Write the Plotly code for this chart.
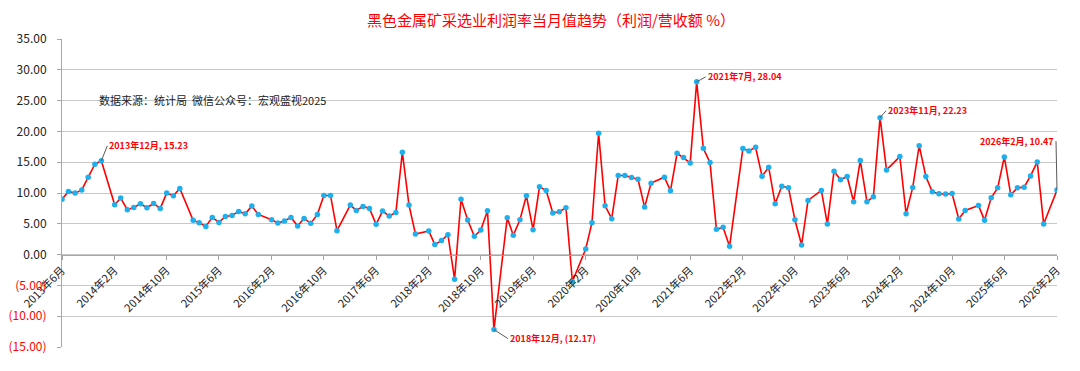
import pandas as pd
import plotly.graph_objects as go

# ---- data: monthly values, 2013-06 .. 2026-02 (January not published) ----
dates = [d.strftime("%Y-%m-%d") for d in pd.date_range("2013-06-01", "2026-02-01", freq="MS") if d.month != 1]

values_2013 = [9.0, 10.25, 9.98, 10.5, 12.57, 14.67, 15.23]
values_2014 = [8.09, 9.17, 7.28, 7.66, 8.25, 7.6, 8.3, 7.5, 9.98, 9.55, 10.73]
values_2015 = [5.56, 5.18, 4.58, 6.04, 5.23, 6.2, 6.36, 7.01, 6.63, 7.87, 6.53]
values_2016 = [5.66, 5.12, 5.45, 6.04, 4.64, 5.88, 5.07, 6.53, 9.6, 9.6, 3.88]
values_2017 = [8.04, 7.17, 7.82, 7.5, 4.91, 7.07, 6.26, 6.85, 16.61, 8.04, 3.34]
values_2018 = [3.83, 1.62, 2.27, 3.24, -3.99, 9.0, 5.61, 2.97, 3.99, 7.12, -12.17]
values_2019 = [5.99, 3.13, 5.66, 9.55, 4.05, 11.0, 10.41, 6.74, 6.96, 7.6, -4.37]
values_2020 = [0.92, 5.18, 19.69, 7.93, 5.83, 12.84, 12.84, 12.51, 12.24, 7.71, 11.6]
values_2021 = [12.57, 10.36, 16.45, 15.75, 14.89, 28.04, 17.26, 14.94, 4.1, 4.42, 1.35]
values_2022 = [17.21, 16.83, 17.42, 12.73, 14.19, 8.25, 11.11, 10.84, 5.66, 1.56, 8.79]
values_2023 = [10.41, 4.96, 13.54, 12.14, 12.68, 8.58, 15.26, 8.58, 9.39, 22.23, 13.75]
values_2024 = [15.91, 6.63, 10.9, 17.69, 12.68, 10.19, 9.87, 9.82, 9.92, 5.77, 7.17]
values_2025 = [7.98, 5.56, 9.22, 10.84, 15.86, 9.71, 10.84, 10.95, 12.78, 15.05, 4.96]
values_2026 = [10.47]

values = (values_2013 + values_2014 + values_2015 + values_2016 + values_2017 + values_2018
          + values_2019 + values_2020 + values_2021 + values_2022 + values_2023 + values_2024
          + values_2025 + values_2026)

x_tick_dates = ["2013-06-01", "2014-02-01", "2014-10-01", "2015-06-01", "2016-02-01",
                "2016-10-01", "2017-06-01", "2018-02-01", "2018-10-01", "2019-06-01",
                "2020-02-01", "2020-10-01", "2021-06-01", "2022-02-01", "2022-10-01",
                "2023-06-01", "2024-02-01", "2024-10-01", "2025-06-01", "2026-02-01"]
x_tick_labels = ["2013年6月", "2014年2月", "2014年10月", "2015年6月", "2016年2月",
                 "2016年10月", "2017年6月", "2018年2月", "2018年10月", "2019年6月",
                 "2020年2月", "2020年10月", "2021年6月", "2022年2月", "2022年10月",
                 "2023年6月", "2024年2月", "2024年10月", "2025年6月", "2026年2月"]

y_tick_vals = [35, 30, 25, 20, 15, 10, 5, 0, -5, -10, -15]
y_tick_labels = ["35.00", "30.00", "25.00", "20.00", "15.00", "10.00", "5.00", "0.00",
                 "(5.00)", "(10.00)", "(15.00)"]

label_dates = ["2013-12-01", "2018-12-01", "2021-07-01", "2023-11-01", "2026-02-01"]
label_texts = ["2013年12月, 15.23", "2018年12月, (12.17)", "2021年7月, 28.04",
               "2023年11月, 22.23", "2026年2月, 10.47"]

FONT = "Noto Sans CJK SC, sans-serif"
RED = "#FF0000"
GRID = "#C8C8C8"

# page has an 8px body margin, so the figure is drawn 8px smaller and margins shifted
OFF = 8
W, H = 1080 - OFF, 371 - OFF
ML, MR, MT, MB = 62 - OFF, 23, 38.5 - OFF, 23.5
pw, ph = W - ML - MR, H - MT - MB

fig = go.Figure()
fig.add_trace(go.Scatter(
    x=dates, y=values, mode="lines+markers",
    line=dict(color=RED, width=1.6),
    marker=dict(color="#1EB0EC", size=5.5),
    hoverinfo="skip", showlegend=False,
))

def y_text(v, t):
    return f"<span style='color:{RED}'>{t}</span>" if v < 0 else t

# annotation offsets (ax, ay, xanchor)
offsets = [(6, -15, "left"), (14, 9, "left"), (9, -5, "left"), (6, -7, "left"), (-1, -49, "right")]
date_to_val = dict(zip(dates, values))
for d, t, (ax, ay, xa) in zip(label_dates, label_texts, offsets):
    fig.add_annotation(
        x=d, y=date_to_val[d], xref="x", yref="y", text=f"<b>{t}</b>",
        showarrow=True, arrowhead=0, arrowwidth=1, arrowcolor="#595959",
        ax=ax, ay=ay, xanchor=xa, yanchor="middle",
        font=dict(family=FONT, size=9, color=RED),
    )

fig.add_annotation(
    x=(97 - OFF - ML) / pw, y=1 - (100 - OFF - MT) / ph, xref="paper", yref="paper",
    text="数据来源：统计局  微信公众号：宏观盛视2025",
    showarrow=False, font=dict(family=FONT, size=11, color="#222222"),
    xanchor="left", yanchor="middle",
)

fig.update_layout(
    width=W, height=H,
    margin=dict(l=ML, r=MR, t=MT, b=MB, pad=0, autoexpand=False),
    paper_bgcolor="white", plot_bgcolor="white",
    font=dict(family=FONT, size=11, color="#222222"),
    title=dict(text="黑色金属矿采选业利润率当月值趋势（利润/营收额 %）",
               x=543 / W, xanchor="center", y=1 - (21 - OFF) / H, yanchor="middle",
               font=dict(family=FONT, size=15, color=RED)),
    xaxis=dict(
        type="date", range=["2013-06-01", "2026-02-01"],
        tickvals=x_tick_dates, ticktext=x_tick_labels, tickangle=-45,
        anchor="free", position=15 / 50, automargin=False,
        showgrid=False, showline=True, linecolor="#A6A6A6", linewidth=1,
        ticks="outside", ticklen=4, tickcolor="#A6A6A6",
        tickfont=dict(family=FONT, size=11, color="#222222"),
        zeroline=False,
    ),
    yaxis=dict(
        range=[-15, 35], tickvals=y_tick_vals, automargin=False,
        ticktext=[y_text(v, t) for v, t in zip(y_tick_vals, y_tick_labels)],
        showgrid=True, gridcolor=GRID, gridwidth=1,
        showline=True, linecolor="#A6A6A6", linewidth=1,
        ticks="outside", ticklen=4, tickcolor="#A6A6A6",
        ticklabelstandoff=8,
        tickfont=dict(family=FONT, size=12, color="#222222"),
        zeroline=False,
    ),
)

fig.write_html("out.html")
